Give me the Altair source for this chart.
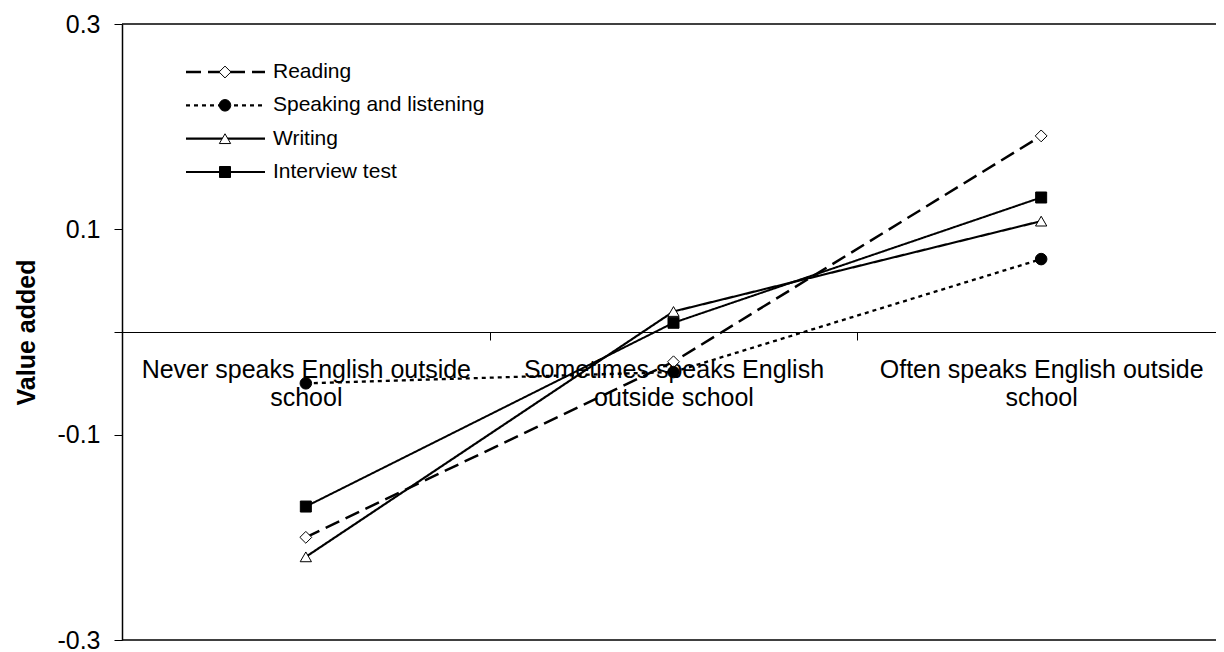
import altair as alt
import pandas as pd

# ---- data -----------------------------------------------------------------
categories = [
    "Never speaks English outside school",
    "Sometimes speaks English outside school",
    "Often speaks English outside school",
]
category_lines = [
    ["Never speaks English outside", "school"],
    ["Sometimes speaks English", "outside school"],
    ["Often speaks English outside", "school"],
]
series = ["Reading", "Speaking and listening", "Writing", "Interview test"]
reading = [-0.200, -0.029, 0.191]
speaking = [-0.050, -0.039, 0.071]
writing = [-0.219, 0.020, 0.108]
interview = [-0.170, 0.009, 0.131]
y_ticks = [-0.3, -0.1, 0.0, 0.1, 0.3]

values_by_series = [reading, speaking, writing, interview]
rows = []
for s, vals in zip(series, values_by_series):
    for i, (c, v) in enumerate(zip(categories, vals)):
        rows.append({"series": s, "category": c, "order": i, "value": v})
df = pd.DataFrame(rows)
legend_df = pd.DataFrame({"series": series})
border_df = pd.DataFrame({"value": [y_ticks[0], y_ticks[-1]]})

# ---- style ----------------------------------------------------------------
FONT = "Liberation Sans"
W, H = 1094, 616
y_dom = [y_ticks[0], y_ticks[-1]]

dash_scale = alt.Scale(domain=series, range=[[15, 7], [4, 4], [1, 0], [1, 0]])
width_scale = alt.Scale(domain=series, range=[2.5, 2, 1, 1])
shape_scale = alt.Scale(domain=series, range=["diamond", "circle", "triangle-up", "square"])
fill_scale = alt.Scale(domain=series, range=["white", "black", "white", "black"])
size_scale = alt.Scale(domain=series, range=[140, 121, 165, 196])

label_expr = ""
for c, lines_ in zip(categories, category_lines):
    label_expr += "datum.label == '%s' ? [%s] : " % (c, ", ".join("'%s'" % t for t in lines_))
label_expr += "''"

x_enc = alt.X(
    "category:N",
    sort=categories,
    scale=alt.Scale(domain=categories, range=[0, 1103], paddingInner=0, paddingOuter=0),
    axis=alt.Axis(
        title=None, orient="bottom", offset=-H / 2,
        domain=True, domainColor="black", domainWidth=1,
        ticks=True, tickBand="extent", tickSize=8, tickColor="black",
        labelAngle=0, labelFont=FONT, labelFontSize=25, labelColor="black",
        labelPadding=17, labelLineHeight=28, labelExpr=label_expr,
        labelLimit=500, labelOverlap=False,
    ),
)
y_enc = alt.Y(
    "value:Q",
    scale=alt.Scale(domain=y_dom, nice=False, zero=False),
    axis=alt.Axis(
        values=y_ticks, format=".1f", grid=False,
        title="Value added", titleFont=FONT, titleFontSize=25, titleFontWeight="bold",
        titleColor="black", titlePadding=17,
        labelFont=FONT, labelFontSize=25, labelColor="black", labelPadding=14,
        labelExpr="datum.value == 0 ? '' : replace(datum.label, '\u2212', '-')",
        tickSize=8, tickColor="black", domainColor="black", domainWidth=1.5,
    ),
)

border = alt.Chart(border_df).mark_rule(color="black", strokeWidth=1.5).encode(y=y_enc)

lines = alt.Chart(df).mark_line(color="black").encode(
    x=x_enc, y=y_enc, order="order:Q",
    strokeDash=alt.StrokeDash("series:N", scale=dash_scale, legend=None),
    strokeWidth=alt.StrokeWidth("series:N", scale=width_scale, legend=None),
)
points = alt.Chart(df).mark_point(filled=True, stroke="black", strokeWidth=1, opacity=1).encode(
    x=x_enc, y=y_enc,
    shape=alt.Shape("series:N", scale=shape_scale, legend=None),
    fill=alt.Fill("series:N", scale=fill_scale, legend=None),
    size=alt.Size("series:N", scale=size_scale, legend=None),
)

ly = alt.Y("series:N", scale=alt.Scale(type="point", domain=series, range=[48, 148], padding=0), axis=None)
leg_rules = alt.Chart(legend_df).mark_rule(color="black").encode(
    x=alt.value(64), x2=alt.value(143), y=ly,
    strokeDash=alt.StrokeDash("series:N", scale=dash_scale, legend=None),
    strokeWidth=alt.StrokeWidth("series:N", scale=width_scale, legend=None),
)
leg_points = alt.Chart(legend_df).mark_point(filled=True, stroke="black", strokeWidth=1, opacity=1).encode(
    x=alt.value(103), y=ly,
    shape=alt.Shape("series:N", scale=shape_scale, legend=None),
    fill=alt.Fill("series:N", scale=fill_scale, legend=None),
    size=alt.Size("series:N", scale=size_scale, legend=None),
)
leg_text = alt.Chart(legend_df).mark_text(
    align="left", baseline="middle", font=FONT, fontSize=21, color="black"
).encode(x=alt.value(151), y=ly, text="series:N")

main = alt.layer(border, lines, points)
leg = alt.layer(leg_rules, leg_points, leg_text)

chart = (
    alt.layer(main, leg)
    .resolve_scale(y="independent")
    .properties(
        width=W, height=H,
        padding={"left": 114, "top": 16, "right": 0, "bottom": 12},
        autosize=alt.AutoSizeParams(type="none"),
        background="white",
    )
    .configure_view(stroke="transparent")
)

chart.save("out.html", embed_options={"renderer": "svg", "actions": False})
